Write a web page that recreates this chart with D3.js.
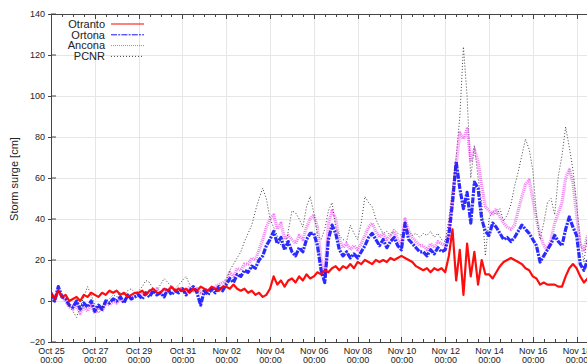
<!DOCTYPE html>
<html><head><meta charset="utf-8">
<script src="https://cdn.jsdelivr.net/npm/d3@7"></script>
<style>
html,body{margin:0;padding:0;background:#fff;overflow:hidden}
text{font-family:"Liberation Sans",Arial,Helvetica,sans-serif;fill:#222}
</style></head>
<body>
<svg id="chart" width="587" height="364"></svg>
<script>
// Time axis: samples every 4 hours starting Oct 25 00:00
const startDate = new Date(Date.UTC(2012, 9, 25, 0, 0));
const endDate = new Date(Date.UTC(2012, 10, 20, 0, 0));
const stepHours = 4;

const seriesNames = ["Otranto", "Ortona", "Ancona", "PCNR"];

const otranto = [
  4, 1, 5, 2, 3, 0,   1, 2, 0, 3, 2, 4,   3, 2, 4, 3, 5, 4,   5, 3, 4, 2, 3, 4,
  4, 5, 3, 5, 6, 4,   4, 6, 5, 7, 5, 6,   5, 6, 4, 6, 5, 7,   6, 5, 7, 6, 5, 7,
  7, 6, 8, 6, 5, 6,   4, 5, 3, 4, 2, 3,   6, 12, 8, 10, 7, 10,   11, 9, 12, 10, 13, 11,
  12, 14, 13, 15, 14, 16,   17, 15, 17, 16, 18, 16,   19, 18, 20, 19, 18, 20,   19, 20, 19, 21, 20, 21,
  22, 21, 20, 19, 17, 16,   15, 16, 14, 16, 15, 16,   14, 22, 35, 10, 25, 3,   28, 12, 24, 8, 20, 13,
  13, 11, 14, 17, 19, 20,   21, 20, 19, 18, 16, 15,   12, 11, 8, 9, 8, 8,   8, 7, 7, 12, 16, 18,
  16, 12, 9, 11, 10, 12
];
const ortona = [
  4, 0, 7, 2, 1, -2,   -3, 0, -4, -1, -3, 0,   -5, -2, -4, 0, -1, 1,   0, 2, -1, 3, 1, 2,
  3, 1, 4, 2, 5, 3,   4, 2, 6, 3, 5, 4,   6, 3, 5, 7, 4, -2,   5, 3, 6, 4, 7, 5,
  8, 11, 9, 13, 12, 15,   14, 17, 16, 20, 22, 27,   30, 34, 28, 31, 25, 29,   24, 22, 26, 24, 30, 33,
  33, 27, 15, 9, 30, 37,   33, 25, 22, 24, 21, 23,   21, 24, 27, 31, 33, 30,   27, 30, 26, 29, 31, 27,
  25, 38, 30, 28, 26, 24,   24, 22, 25, 23, 26, 24,   25, 32, 48, 68, 55, 45,   53, 38, 58, 55, 40, 34,
  32, 38, 36, 33, 30, 31,   29, 31, 34, 37, 35, 33,   30, 27, 19, 22, 25, 28,   32, 29, 27, 35, 41, 36,
  32, 18, 15, 20, 22, 24
];
const ancona = [
  3, 0, 5, 2, 0, -3,   -4, -2, -6, -3, -5, -2,   -6, -3, -5, -1, -2, 0,   -1, 1, 0, 2, 1, 3,
  2, 4, 3, 5, 4, 6,   4, 6, 5, 7, 5, 6,   6, 4, 7, 5, 6, 4,   4, 6, 5, 7, 8, 9,
  10, 14, 12, 16, 15, 18,   18, 21, 20, 25, 30, 36,   40, 42, 35, 38, 30, 32,   30, 28, 32, 30, 36, 40,
  42, 36, 20, 12, 38, 44,   40, 30, 26, 28, 25, 27,   25, 28, 32, 36, 38, 34,   31, 33, 30, 32, 34, 30,
  28, 40, 34, 31, 29, 27,   27, 25, 28, 26, 29, 28,   27, 34, 50, 66, 82, 79,   84, 68, 74, 68, 56, 46,
  44, 42, 45, 41, 38, 36,   35, 37, 44, 51, 57, 59,   50, 40, 32, 27, 25, 30,   38, 43, 48, 60, 64, 58,
  42, 28, 25, 32, 34, 33
];
const pcnr = [
  4, 2, 6, 3, 1, -2,   -5, -8, -3, 2, 7, 3,   -2, -6, -3, 0, 1, 3,   2, 4, 3, 5, 6, 4,
  5, 7, 10, 9, 6, 5,   8, 11, 9, 7, 6, 8,   10, 12, 8, 6, 5, 4,   6, 5, 4, 6, 5, 7,
  10, 15, 18, 21, 24, 29,   33, 37, 44, 50, 55, 50,   40, 36, 32, 27, 25, 34,   44, 43, 40, 36, 46, 51,
  43, 32, 30, 35, 44, 48,   36, 32, 30, 29, 37, 33,   30, 38, 51, 48, 46, 40,   36, 33, 34, 32, 35, 33,
  32, 35, 34, 32, 33, 31,   33, 32, 34, 31, 33, 30,   29, 40, 55, 70, 90, 124,   100, 60, 76, 60, 48, 22,
  40, 44, 42, 45, 39, 42,   47, 56, 63, 71, 79, 74,   64, 42, 30, 38, 48, 50,   42, 61, 71, 85, 75, 64,
  48, 29, 19, 32, 30, 31
];

const yTicks = [-20, 0, 20, 40, 60, 80, 100, 120, 140];
const xTickDays = [0, 2, 4, 6, 8, 10, 12, 14, 16, 18, 20, 22, 24]; // days after Oct 25

const svg = d3.select("#chart");
const L = 51, T = 14, B = 342;
const R = L + 26 * 21.9;

const x = d3.scaleUtc().domain([startDate, endDate]).range([L, R]);
const y = d3.scaleLinear().domain([-20, 140]).range([B, T]);

const timeOf = i => new Date(startDate.getTime() + i * stepHours * 3600e3);

// grid
const grid = svg.append("g");
xTickDays.forEach(d => {
  const xx = Math.round(x(d3.utcDay.offset(startDate, d))) + 0.5;
  grid.append("line").attr("x1", xx).attr("x2", xx).attr("y1", T).attr("y2", B)
    .attr("stroke", "#e6e6e6").attr("stroke-width", 1);
});
yTicks.forEach(v => {
  const yy = Math.round(y(v)) + 0.5;
  grid.append("line").attr("x1", L).attr("x2", R).attr("y1", yy).attr("y2", yy)
    .attr("stroke", "#e6e6e6").attr("stroke-width", 1);
});

// clip
svg.append("clipPath").attr("id", "clip").append("rect")
  .attr("x", L).attr("y", T).attr("width", R - L).attr("height", B - T);

const line = d3.line().x((d, i) => x(timeOf(i))).y(d => y(d));
const plot = svg.append("g").attr("clip-path", "url(#clip)");

const styles = {
  Otranto: {data: otranto, color: "#ff0000", dash: null, w: 2.2, op: 0.95, lw: 1.2},
  Ortona:  {data: ortona,  color: "#1414ff", dash: "6,1.2,2,1.2", w: 3.2, op: 0.9, lw: 1},
  Ancona:  {data: ancona,  color: "#f050f0", dash: "1,1", w: 3.2, op: 0.75, lw: 1},
  PCNR:    {data: pcnr,    color: "#444444", dash: "1,2", w: 1, op: 1, lw: 1}
};
["Ancona", "Ortona", "PCNR", "Otranto"].forEach(name => {
  const s = styles[name];
  plot.append("path").datum(s.data).attr("d", line)
    .attr("fill", "none").attr("stroke", s.color).attr("stroke-width", s.w)
    .attr("stroke-opacity", s.op).attr("stroke-linejoin", "round")
    .attr("stroke-dasharray", s.dash);
});

// border
svg.append("rect").attr("x", L + 0.5).attr("y", T + 0.5).attr("width", R - L).attr("height", B - T)
  .attr("fill", "none").attr("stroke", "#444").attr("stroke-width", 1);

// x axis labels (two lines)
const majorDates = xTickDays.map(d => d3.utcDay.offset(startDate, d));
const xAxis = d3.axisBottom(x).tickValues(majorDates).tickSize(0).tickPadding(0)
  .tickFormat(d3.utcFormat("%b %d"));
const gx = svg.append("g").attr("transform", `translate(0,${B})`).call(xAxis);
gx.select(".domain").remove();
gx.selectAll("text").each(function(d) {
  const t = d3.select(this);
  t.text(null).attr("y", 0).attr("dy", null).attr("font-size", 9).attr("fill", "#222");
  t.append("tspan").attr("x", 0).attr("y", 12).text(d3.utcFormat("%b %d")(d));
  t.append("tspan").attr("x", 0).attr("y", 20.7).text(d3.utcFormat("%H:%M")(d));
});

// minor and major x ticks (bottom & top, inward)
const minor = d3.utcHour.every(12).range(startDate, endDate);
minor.forEach(d => {
  const isMajor = majorDates.some(m => m.getTime() === d.getTime());
  const len = isMajor ? 5 : 3;
  const xx = Math.round(x(d)) + 0.5;
  svg.append("line").attr("x1", xx).attr("x2", xx).attr("y1", B).attr("y2", B - len).attr("stroke", "#444");
  svg.append("line").attr("x1", xx).attr("x2", xx).attr("y1", T).attr("y2", T + len).attr("stroke", "#444");
});

// y axis
const yAxis = d3.axisLeft(y).tickValues(yTicks).tickSize(3).tickPadding(3);
const gy = svg.append("g").attr("transform", `translate(${L},0)`).call(yAxis);
gy.select(".domain").remove();
gy.selectAll("line").attr("stroke", "#444");
gy.selectAll("text").attr("font-size", 9).attr("fill", "#222");
yTicks.forEach(v => {
  svg.append("line").attr("x1", L).attr("x2", L + 5).attr("y1", y(v)).attr("y2", y(v)).attr("stroke", "#444");
});

// y label
svg.append("text").attr("transform", `translate(18,${(T + B) / 2 + 1}) rotate(-90)`)
  .attr("text-anchor", "middle").attr("font-size", 11).text("Storm surge [cm]");

// legend
const lg = svg.append("g");
seriesNames.forEach((name, i) => {
  const s = styles[name];
  const yy = 24 + i * 10.8;
  lg.append("text").attr("x", 105).attr("y", yy).attr("dy", "0.35em")
    .attr("text-anchor", "end").attr("font-size", 11).text(name);
  lg.append("line").attr("x1", 111).attr("x2", 144).attr("y1", yy).attr("y2", yy)
    .attr("stroke", s.color).attr("stroke-width", s.lw).attr("stroke-dasharray", s.dash);
});
</script>
</body></html>
